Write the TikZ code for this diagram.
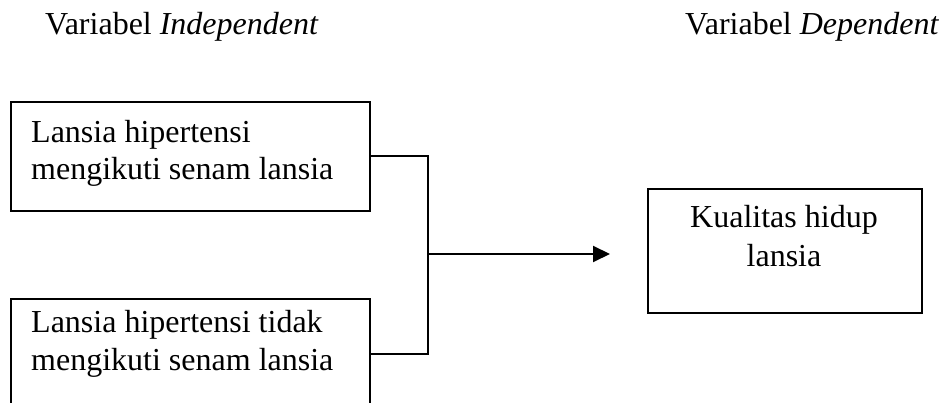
\documentclass[tikz,border=0pt]{standalone}
\usepackage{fontspec}
\setmainfont{Liberation Serif}
\usetikzlibrary{arrows.meta}
\begin{document}
\begin{tikzpicture}[x=1pt,y=-1pt,
  box/.style={draw, line width=2pt, inner sep=0pt, anchor=north west},
  lbl/.style={inner sep=0pt, font=\fontsize{32}{37}\selectfont},
  conn/.style={draw, line width=2pt}]
\useasboundingbox (0,0) rectangle (945,403);
\clip (0,0) rectangle (945,403);
% headers
\node[lbl, anchor=base west] (h1) at (45,35) {Variabel \textit{Independent}};
\node[lbl, anchor=base west] (h2) at (685,35) {Variabel \textit{Dependent}};
% boxes
\node[box, minimum width=359pt, minimum height=109pt] (b1) at (10,101) {};
\node[box, minimum width=359pt, minimum height=109pt] (b2) at (10,298) {};
\node[box, minimum width=274pt, minimum height=124pt] (b3) at (647,188) {};
% box texts
\node[lbl, anchor=base west] (t1a) at (31,143) {Lansia hipertensi};
\node[lbl, anchor=base west] (t1b) at (31,180) {mengikuti senam lansia};
\node[lbl, anchor=base west] (t2a) at (31,332) {Lansia hipertensi tidak};
\node[lbl, anchor=base west] (t2b) at (31,370) {mengikuti senam lansia};
\node[lbl, anchor=base] (t3a) at (784,228) {Kualitas hidup};
\node[lbl, anchor=base] (t3b) at (784,267) {lansia};
% connectors
\coordinate (j) at (428,254);
\coordinate (tip) at (610,254);
\draw[conn] (b1.east) -| (j) |- (b2.east);
\draw[conn, -{Triangle[length=17pt,width=16pt]}] (j) -- (tip);
\end{tikzpicture}
\end{document}
